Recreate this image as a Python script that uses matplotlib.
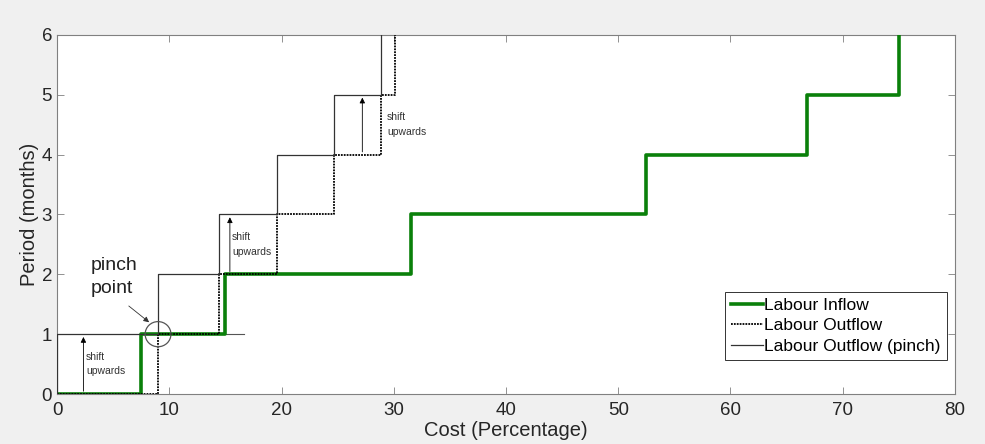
import matplotlib.pyplot as plt
from matplotlib.patches import Ellipse

plt.rcParams['font.family'] = ['Liberation Sans', 'DejaVu Sans']

# step data (x where each level starts, level value)
inflow_x = [0, 7.5, 15.0, 31.5, 52.5, 66.8, 75.0]
inflow_y = [0, 1, 2, 3, 4, 5, 6]

outflow_x = [0, 9.0, 14.4, 19.6, 24.7, 28.9, 30.1]
outflow_y = [0, 1, 2, 3, 4, 5, 6]

pinch_x = [0, 0, 9.0, 14.4, 19.6, 24.7, 28.9]
pinch_y = [0, 1, 2, 3, 4, 5, 6]

xticks = [0, 10, 20, 30, 40, 50, 60, 70, 80]
yticks = [0, 1, 2, 3, 4, 5, 6]


def steps(xs, ys):
    px, py = [xs[0]], [ys[0]]
    for i in range(1, len(xs)):
        px += [xs[i], xs[i]]
        py += [ys[i - 1], ys[i]]
    return px, py


fig = plt.figure(figsize=(9.85, 4.44), dpi=100, facecolor='#f0f0f0')
ax = fig.add_axes([0.0579, 0.1126, 0.9116, 0.8086])

x, y = steps(inflow_x, inflow_y)
ax.plot(x, y, color='#0a800a', lw=2.6, label='Labour Inflow', zorder=3)
x, y = steps(outflow_x, outflow_y)
ax.plot(x, y, color='black', lw=1.3, ls=(0, (1, 0.6)), label='Labour Outflow', zorder=4)
x, y = steps(pinch_x, pinch_y)
ax.plot(x, y, color='#333333', lw=0.9, label='Labour Outflow (pinch)', zorder=4)
ax.plot([9.0, 16.7], [1, 1], color='#555555', lw=0.8, zorder=2)

# shift arrows and notes
arrows = [(2.35, 0, 1), (15.4, 2, 3), (27.2, 4, 5)]
notes = [(2.6, 0.5), (15.6, 2.5), (29.4, 4.5)]
for ax_x, y0, y1 in arrows:
    ax.annotate('', xy=(ax_x, y1), xytext=(ax_x, y0),
                arrowprops=dict(arrowstyle='-|>', color='black', lw=0.6,
                                mutation_scale=8), zorder=5)
for nx, ny in notes:
    ax.text(nx, ny, 'shift\nupwards', fontsize=7.5, color='#333333',
            va='center', ha='left', linespacing=1.6)

ax.add_patch(Ellipse((9.0, 1.0), 2.3, 0.42, fill=False, ec='#555555', lw=0.9, zorder=6))
ax.text(3.0, 1.95, 'pinch\npoint', fontsize=14, color='#222222', va='center',
        ha='left', linespacing=1.45)
ax.annotate('', xy=(8.4, 1.17), xytext=(6.2, 1.5),
            arrowprops=dict(arrowstyle='-|>', color='#333333', lw=0.6, mutation_scale=8))

ax.set_xlim(0, 80)
ax.set_ylim(0, 6)
ax.set_xticks(xticks)
ax.set_yticks(yticks)
ax.tick_params(direction='in', top=True, right=True, length=5, width=0.6,
               colors='#808080', labelcolor='#262626', labelsize=13.5)
ax.tick_params(axis='x', pad=6)
for s in ax.spines.values():
    s.set_color('#808080')
    s.set_linewidth(0.8)

ax.set_xlabel('Cost (Percentage)', fontsize=14.5, color='#262626', labelpad=1)
ax.set_ylabel('Period (months)', fontsize=14.5, color='#262626', labelpad=2)

leg = ax.legend(loc='lower right', bbox_to_anchor=(0.991, 0.095), borderaxespad=0,
                fancybox=False, edgecolor='#333333', fontsize=12.5, handlelength=1.8,
                handletextpad=0.1, borderpad=0.35, labelspacing=0.3, framealpha=1)
leg.get_frame().set_linewidth(0.7)

fig.savefig('out.png', dpi=100, facecolor=fig.get_facecolor())
